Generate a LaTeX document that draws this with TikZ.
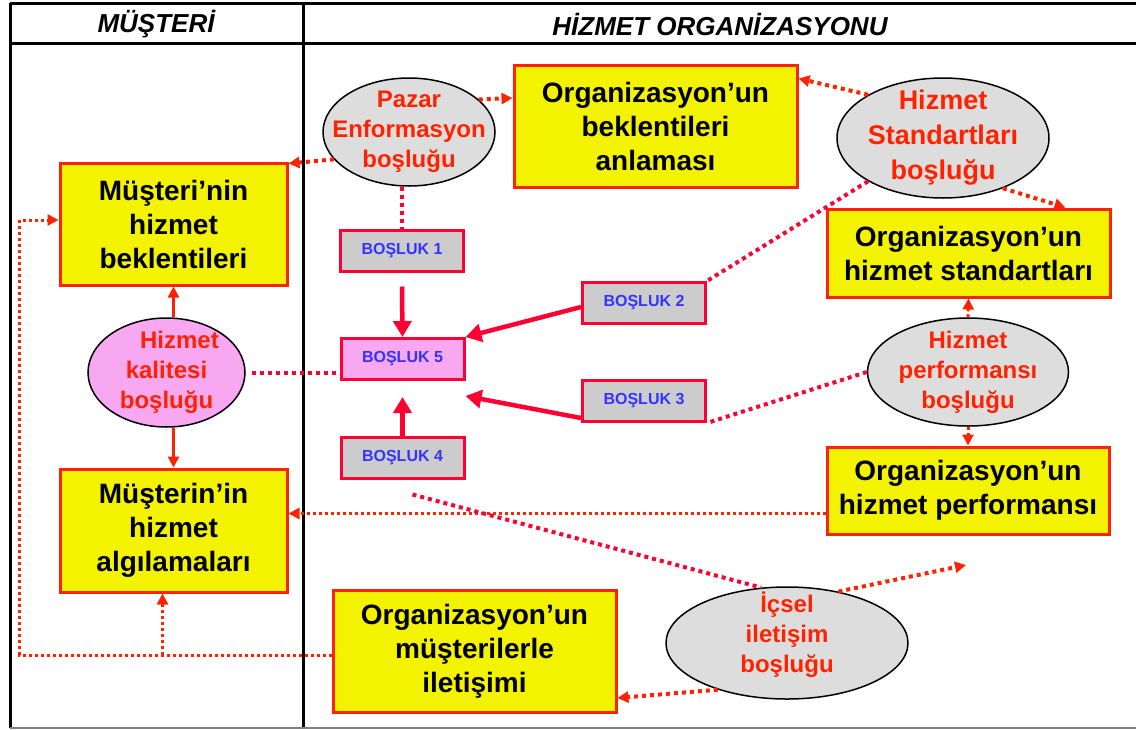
\documentclass[tikz,border=0pt]{standalone}
\usepackage{fontspec}
\setmainfont{Liberation Sans}
\usetikzlibrary{shapes.geometric,arrows.meta}
\definecolor{yel}{RGB}{243,243,0}
\definecolor{bred}{RGB}{255,34,0}
\definecolor{crim}{RGB}{255,0,51}
\definecolor{lgray}{RGB}{221,221,221}
\definecolor{bgray}{RGB}{204,204,204}
\definecolor{pnk}{RGB}{248,168,240}
\definecolor{bblue}{RGB}{51,51,255}
\newcommand{\fs}[2]{\fontsize{#1}{#2}\selectfont}

\begin{document}
\begin{tikzpicture}[x=1pt,y=-1pt,
org/.style={rectangle,draw=bred,line width=3pt,fill=yel,align=center,inner sep=2pt,font=\bfseries\fs{28}{34}},
gap/.style={ellipse,draw=black,line width=1.5pt,fill=lgray,inner sep=0pt},
gtxt/.style={text=bred,align=center,inner sep=0pt,font=\bfseries\fs{24}{30}},
bos/.style={rectangle,draw=crim,line width=3pt,fill=bgray,text=bblue,minimum width=123,minimum height=41,font=\bfseries\fs{16}{18}},
head/.style={font=\bfseries\itshape\fs{26}{28}},
dotline/.style={line width=4pt,dash pattern=on 4pt off 4pt},
fdot/.style={line width=3pt,dash pattern=on 3pt off 3pt},
arr/.style={-{Triangle[length=11pt,width=11pt]}},
fat/.style={crim,line width=4.5pt,-{Triangle[length=16pt,width=18pt]}}]
	\useasboundingbox (0,0) rectangle (1136,729);
	% frame and header
	\draw[line width=3pt] (10,3) -- (1136,3);
	\draw[line width=3pt] (10,43) -- (1136,43);
	\draw[line width=3pt] (10,3) -- (10,728);
	\draw[line width=3pt] (303,3) -- (303,728);
	\draw[gray,line width=1.5pt] (10,728) -- (1136,728);
	\node[head] (hm) at (156,24) {MÜŞTERİ};
	\node[head] (ho) at (720,24) {HİZMET ORGANİZASYONU};
	
	\node[org,minimum width=227,minimum height=122] (mb) at (173.5,224) {Müşteri’nin\\hizmet\\beklentileri};
	\node[org,minimum width=227,minimum height=123] (ma) at (173.5,530.5) {Müşterin’in\\hizmet\\algılamaları};
	\node[org,minimum width=283,minimum height=122] (ob) at (655.5,126) {Organizasyon’un\\beklentileri\\anlaması};
	\node[org,minimum width=283,minimum height=88] (os) at (968.5,253) {Organizasyon’un\\hizmet standartları};
	\node[org,minimum width=282,minimum height=87] (op) at (968,490.5) {Organizasyon’un\\hizmet performansı};
	\node[org,minimum width=283,minimum height=122] (oi) at (474.5,651) {Organizasyon’un\\müşterilerle\\iletişimi};
	
	\node[gap,fill=pnk,minimum width=157,minimum height=109,label={[gtxt]center:\hspace*{26pt}Hizmet\\kalitesi\\boşluğu}] (hk) at (166.5,372.5) {};
	\node[gap,minimum width=172,minimum height=108,label={[gtxt]center:Pazar\\Enformasyon\\boşluğu}] (pe) at (409,132) {};
	\node[gap,minimum width=212,minimum height=120,label={[gtxt,font=\bfseries\fs{27}{35}]center:Hizmet\\Standartları\\boşluğu}] (hs) at (943,138) {};
	\node[gap,minimum width=201,minimum height=108,label={[gtxt]center:Hizmet\\performansı\\boşluğu}] (hp) at (968,372) {};
	\node[gap,minimum width=242,minimum height=112,label={[gtxt,yshift=8pt]center:İçsel\\iletişim\\boşluğu}] (ic) at (787,643) {};
	
	\node[bos] (b1) at (402,250.5) {BOŞLUK 1};
	\node[bos,fill=pnk] (b5) at (402.5,359) {BOŞLUK 5};
	\node[bos] (b4) at (402.5,457.5) {BOŞLUK 4};
	\node[bos] (b2) at (644,303) {BOŞLUK 2};
	\node[bos] (b3) at (644,401) {BOŞLUK 3};
	
	\draw[fat] ([yshift=-14pt]b1.south) -- (b5.north);
	\draw[fat] (b4.north) -- ([yshift=-16pt]b5.south);
	\draw[fat] ([yshift=-4pt]b2.west) -- (b5.north east);
	\draw[fat] ([yshift=5pt]b3.south west) -- ([yshift=-15pt]b5.south east);
	
	\draw[bred,line width=2.5pt,arr] (hk.north -| mb.south) -- (mb.south);
	\draw[bred,line width=2.5pt,arr] (hk.south -| ma.north) -- (ma.north);
	\draw[dotline,crim] ([xshift=6pt]hk.east) -- (hk.east -| b5.west);
	
	\draw[dotline,crim] (pe.south -| b1.north) -- (b1.north);
	\draw[dotline,bred,arr] (pe.200) -- ([yshift=-2pt]mb.north east);
	\draw[dotline,bred,arr] (pe.25) -- ([yshift=28pt]ob.west);
	\draw[dotline,bred,arr] (hs.150) -- ([yshift=-15pt]ob.north east);
	\draw[dotline,bred,arr] (hs.-40) -- ([xshift=97pt]os.north);
	\draw[dotline,crim] (hs.210) -- (b2.north east);
	\draw[fdot,bred,arr] (hp.north) -- (os.south);
	\draw[fdot,bred,arr] (hp.south) -- (op.north);
	\draw[dotline,crim] (hp.west) -- (b3.south east);
	\draw[fdot,bred,arr] ([yshift=-23pt]op.west) -- ([yshift=-23pt]op.west -| ma.east);
	
	\coordinate (lb) at ([yshift=-4pt]oi.west);
	\coordinate (la) at ([xshift=-11pt]ma.south);
	\draw[fdot,bred,arr] (lb) -| ([xshift=-39pt,yshift=4pt]mb.west) -- ([yshift=4pt]mb.west);
	\draw[fdot,bred,arr] (lb -| la) -- (la);
	
	\coordinate (ie) at (966,565);
	\draw[dotline,crim] ([xshift=10pt,yshift=-15pt]b4.south) -- (ic.115);
	\draw[dotline,bred,arr] (ic.45) -- (ie);
	\draw[dotline,bred,arr] (ic.214) -- ([yshift=-47pt]oi.east);
\end{tikzpicture}
\end{document}
